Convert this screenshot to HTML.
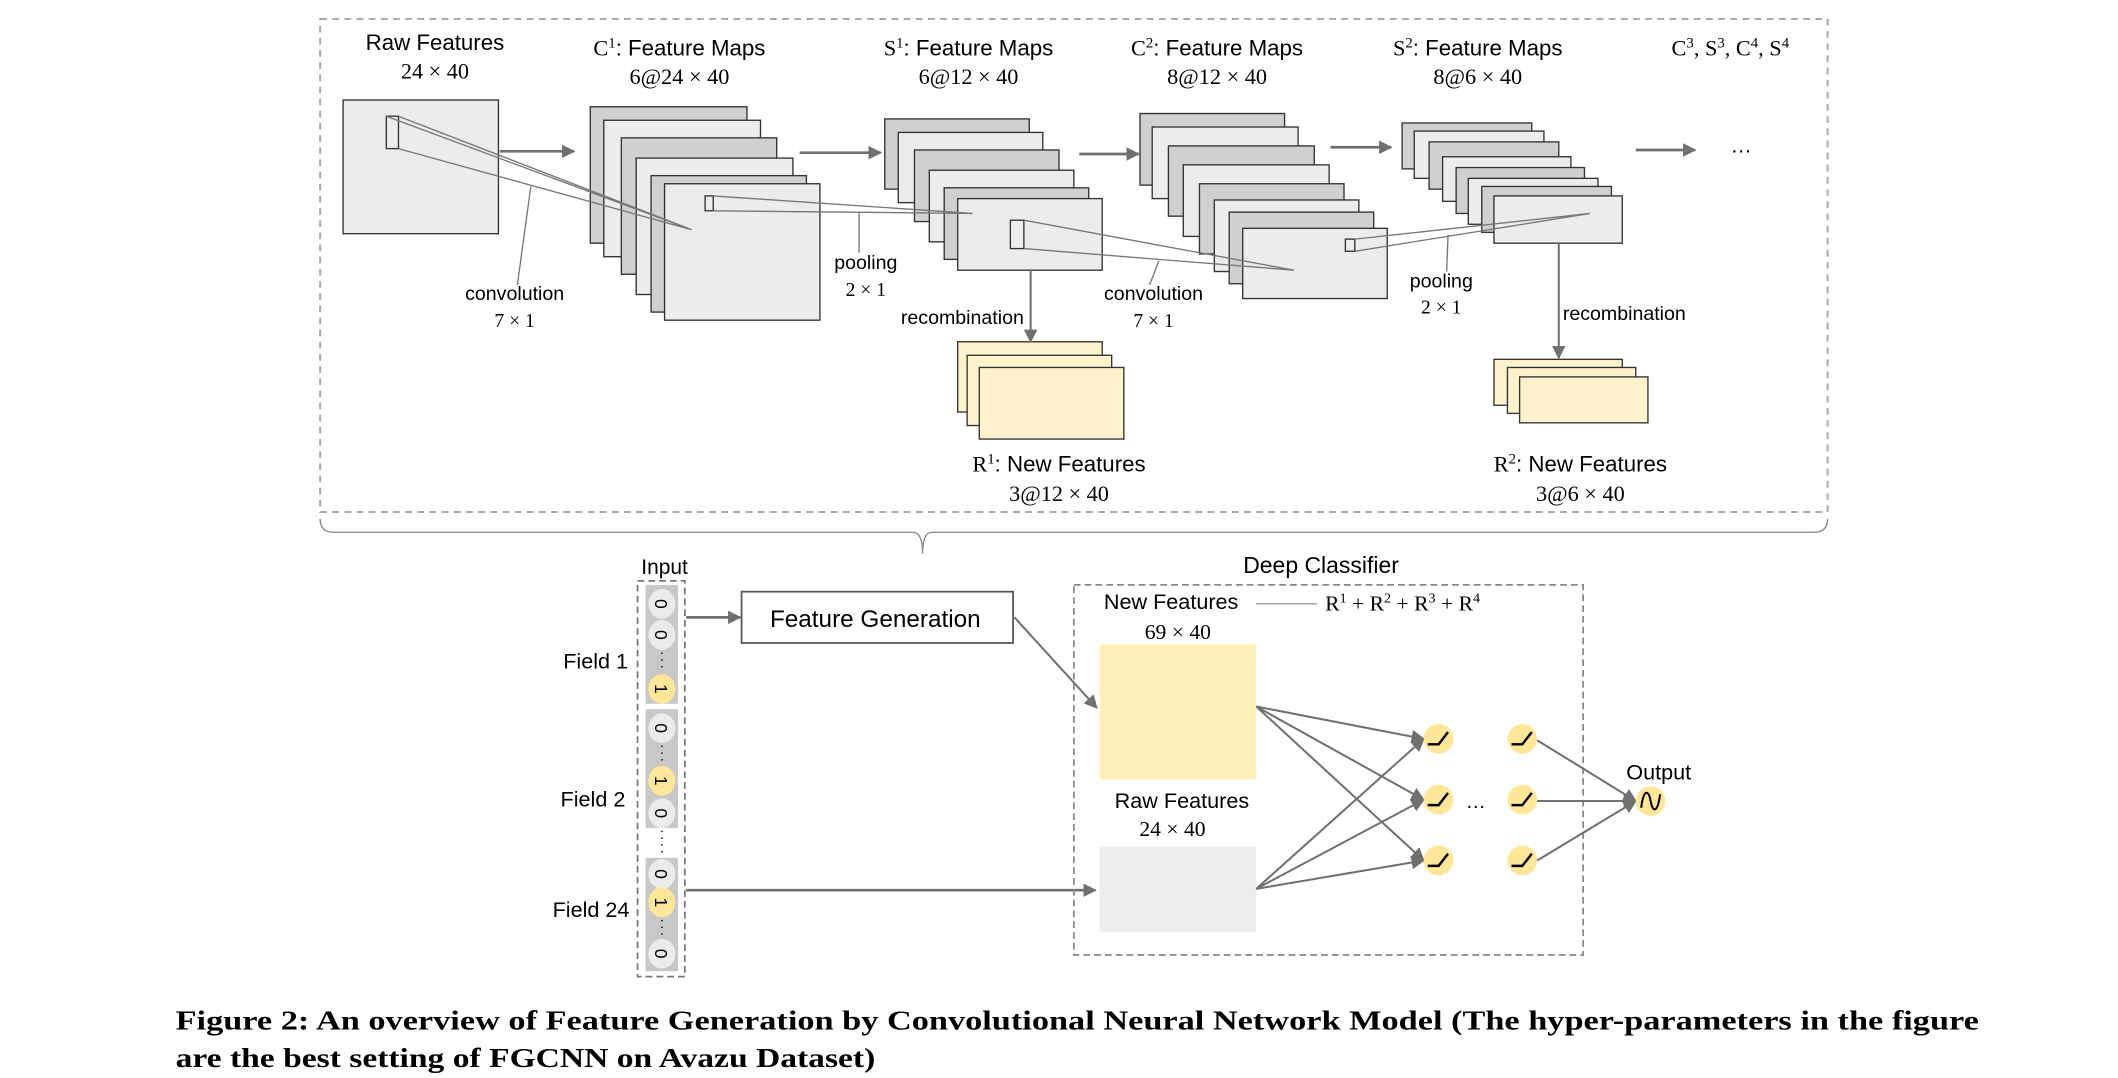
<!DOCTYPE html>
<html><head><meta charset="utf-8"><style>
html,body{margin:0;padding:0;background:#fff;}
svg{display:block;}
.s{font-family:"Liberation Sans",sans-serif;fill:#000;}
.m{font-family:"Liberation Serif",serif;fill:#000;}
</style></head><body>
<svg width="2118" height="1078" viewBox="0 0 1568 798" xmlns="http://www.w3.org/2000/svg">
<defs>
<marker id="a" markerWidth="10" markerHeight="10" refX="9" refY="5" orient="auto" markerUnits="userSpaceOnUse"><path d="M0,0 L10,5 L0,10 z" fill="#707070"/></marker>
</defs>
<rect x="237" y="14" width="1116" height="365" fill="none" stroke="#aaa" stroke-width="1.5" stroke-dasharray="5,4"/>
<path d="M237,384 Q237,394 247,394 L676,394 Q683,394 683,410 Q683,394 690,394 L1343,394 Q1353,394 1353,384" fill="none" stroke="#888" stroke-width="1"/>

<g font-size="16.5">
<text class="s" x="322" y="37" text-anchor="middle">Raw Features</text>
<text class="m" x="322" y="58" text-anchor="middle">24 × 40</text>
<text x="503" y="41" text-anchor="middle"><tspan class="m">C</tspan><tspan class="m" dy="-6" font-size="11">1</tspan><tspan class="s" dy="6">: Feature Maps</tspan></text>
<text class="m" x="503" y="62" text-anchor="middle">6@24 × 40</text>
<text x="717" y="41" text-anchor="middle"><tspan class="m">S</tspan><tspan class="m" dy="-6" font-size="11">1</tspan><tspan class="s" dy="6">: Feature Maps</tspan></text>
<text class="m" x="717" y="62" text-anchor="middle">6@12 × 40</text>
<text x="901" y="41" text-anchor="middle"><tspan class="m">C</tspan><tspan class="m" dy="-6" font-size="11">2</tspan><tspan class="s" dy="6">: Feature Maps</tspan></text>
<text class="m" x="901" y="62" text-anchor="middle">8@12 × 40</text>
<text x="1094" y="41" text-anchor="middle"><tspan class="m">S</tspan><tspan class="m" dy="-6" font-size="11">2</tspan><tspan class="s" dy="6">: Feature Maps</tspan></text>
<text class="m" x="1094" y="62" text-anchor="middle">8@6 × 40</text>
<text class="m" x="1281" y="41" text-anchor="middle">C<tspan dy="-6" font-size="11">3</tspan><tspan dy="6">, S</tspan><tspan dy="-6" font-size="11">3</tspan><tspan dy="6">, C</tspan><tspan dy="-6" font-size="11">4</tspan><tspan dy="6">, S</tspan><tspan dy="-6" font-size="11">4</tspan></text>
</g>

<g stroke="#333" stroke-width="1">
<rect x="254" y="74" width="115" height="99" fill="#ececec"/>
<rect x="286" y="86" width="9" height="24" fill="#ececec"/>
<rect x="437" y="79" width="116" height="101" fill="#d0d0d0"/>
<rect x="447" y="89" width="116" height="101" fill="#ececec"/>
<rect x="460" y="102" width="115" height="101" fill="#d0d0d0"/>
<rect x="471" y="117" width="116" height="101" fill="#ececec"/>
<rect x="482" y="130" width="115" height="101" fill="#d0d0d0"/>
<rect x="492" y="136" width="115" height="101" fill="#ececec"/>
<rect x="522" y="145" width="6" height="11" fill="#ececec"/>
<rect x="655" y="88" width="107" height="52" fill="#d0d0d0"/>
<rect x="665" y="98" width="107" height="52" fill="#ececec"/>
<rect x="677" y="111" width="107" height="53" fill="#d0d0d0"/>
<rect x="688" y="126" width="107" height="53" fill="#ececec"/>
<rect x="699" y="139" width="107" height="53" fill="#d0d0d0"/>
<rect x="709" y="147" width="107" height="53" fill="#ececec"/>
<rect x="748" y="163" width="10" height="21" fill="#ececec"/>
<rect x="844" y="84" width="107" height="53" fill="#d0d0d0"/>
<rect x="853" y="94" width="108" height="53" fill="#ececec"/>
<rect x="865" y="108" width="108" height="52" fill="#d0d0d0"/>
<rect x="876" y="122" width="108" height="53" fill="#ececec"/>
<rect x="888" y="136" width="107" height="52" fill="#d0d0d0"/>
<rect x="899" y="148" width="107" height="53" fill="#ececec"/>
<rect x="910" y="157" width="107" height="53" fill="#d0d0d0"/>
<rect x="920" y="169" width="107" height="52" fill="#ececec"/>
<rect x="996" y="177" width="7" height="9" fill="#ececec"/>
<rect x="1038" y="91" width="96" height="34" fill="#d0d0d0"/>
<rect x="1047" y="97" width="96" height="35" fill="#ececec"/>
<rect x="1058" y="105" width="96" height="35" fill="#d0d0d0"/>
<rect x="1068" y="116" width="95" height="33" fill="#ececec"/>
<rect x="1078" y="124" width="95" height="34" fill="#d0d0d0"/>
<rect x="1087" y="132" width="96" height="34" fill="#ececec"/>
<rect x="1097" y="138" width="96" height="34" fill="#d0d0d0"/>
<rect x="1106" y="145" width="95" height="35" fill="#ececec"/>
<rect x="709" y="253" width="107" height="52" fill="#fff2cc"/>
<rect x="716" y="263" width="107" height="52" fill="#fff2cc"/>
<rect x="725" y="272" width="107" height="53" fill="#fff2cc"/>
<rect x="1106" y="266" width="95" height="34" fill="#fff2cc"/>
<rect x="1116" y="272" width="95" height="34" fill="#fff2cc"/>
<rect x="1125" y="279" width="95" height="34" fill="#fff2cc"/>
</g>

<g stroke="#777" stroke-width="1" fill="none">
<path d="M286,86 L512,170 M295,86 L512,170 M295,110 L512,170"/>
<path d="M528,145 L720,158 M528,156 L720,158"/>
<path d="M758,163 L958,200 M758,184 L958,200"/>
<path d="M1003,177 L1177,158 M1003,186 L1177,158"/>
<path d="M383,211 L393,138 M636,187 L636,157 M851,211 L858,193 M1071,201 L1072,174"/>
</g>
<g stroke="#707070" stroke-width="2" fill="none" marker-end="url(#a)">
<path d="M370,112 L425,112"/>
<path d="M592,113 L652,113"/>
<path d="M799,114 L843,114"/>
<path d="M985,109 L1030,109"/>
<path d="M1211,111 L1255,111"/>
</g>
<g stroke="#707070" stroke-width="1.5" fill="none" marker-end="url(#a)">
<path d="M763,200 L763,253"/>
<path d="M1154,180 L1154,265"/>
</g>
<text class="s" x="1281" y="113" font-size="16">…</text>
<g font-size="14.5">
<text class="s" x="381" y="222" text-anchor="middle">convolution</text>
<text class="m" x="381" y="242" text-anchor="middle">7 × 1</text>
<text class="s" x="641" y="199" text-anchor="middle">pooling</text>
<text class="m" x="641" y="219" text-anchor="middle">2 × 1</text>
<text class="s" x="758" y="240" text-anchor="end">recombination</text>
<text class="s" x="854" y="222" text-anchor="middle">convolution</text>
<text class="m" x="854" y="242" text-anchor="middle">7 × 1</text>
<text class="s" x="1067" y="213" text-anchor="middle">pooling</text>
<text class="m" x="1067" y="232" text-anchor="middle">2 × 1</text>
<text class="s" x="1157" y="237">recombination</text>
</g>
<g font-size="16.5">
<text x="784" y="349" text-anchor="middle"><tspan class="m">R</tspan><tspan class="m" dy="-6" font-size="11">1</tspan><tspan class="s" dy="6">: New Features</tspan></text>
<text class="m" x="784" y="371" text-anchor="middle">3@12 × 40</text>
<text x="1170" y="349" text-anchor="middle"><tspan class="m">R</tspan><tspan class="m" dy="-6" font-size="11">2</tspan><tspan class="s" dy="6">: New Features</tspan></text>
<text class="m" x="1170" y="371" text-anchor="middle">3@6 × 40</text>
</g>

<text class="s" x="492" y="425" font-size="15.5" text-anchor="middle">Input</text>
<rect x="472" y="430" width="35" height="293" fill="none" stroke="#777" stroke-width="1.3" stroke-dasharray="5,3"/>
<rect x="478" y="433" width="24" height="88" fill="#c8c8c8"/>
<rect x="478" y="525" width="24" height="88" fill="#c8c8c8"/>
<rect x="478" y="635" width="24" height="84" fill="#c8c8c8"/>
<g font-family="Liberation Sans,sans-serif" font-size="13" text-anchor="middle">
<g fill="#ebebeb">
<ellipse cx="490" cy="447" rx="10" ry="11"/><ellipse cx="490" cy="470" rx="10" ry="11"/>
<ellipse cx="490" cy="539" rx="10" ry="11"/><ellipse cx="490" cy="602" rx="10" ry="11"/>
<ellipse cx="490" cy="647" rx="10" ry="11"/><ellipse cx="490" cy="706" rx="10" ry="11"/>
</g>
<g fill="#ffe699">
<ellipse cx="490" cy="510" rx="10" ry="11"/><ellipse cx="490" cy="578" rx="10" ry="11"/><ellipse cx="490" cy="668" rx="10" ry="11"/>
</g>
<text transform="translate(485,447) rotate(90)">0</text>
<text transform="translate(485,470) rotate(90)">0</text>
<text transform="translate(485,510) rotate(90)">1</text>
<text transform="translate(485,539) rotate(90)">0</text>
<text transform="translate(485,578) rotate(90)">1</text>
<text transform="translate(485,602) rotate(90)">0</text>
<text transform="translate(485,647) rotate(90)">0</text>
<text transform="translate(485,668) rotate(90)">1</text>
<text transform="translate(485,706) rotate(90)">0</text>
</g>
<g stroke="#222" stroke-width="1.3" stroke-dasharray="1,4">
<path d="M490,483 L490,497 M490,552 L490,566 M490,615 L490,632 M490,681 L490,694"/>
</g>
<g font-size="16">
<text class="s" x="465" y="495" text-anchor="end">Field 1</text>
<text class="s" x="463" y="597" text-anchor="end">Field 2</text>
<text class="s" x="466" y="679" text-anchor="end">Field 24</text>
</g>

<rect x="549" y="438" width="201" height="38" fill="#fff" stroke="#555" stroke-width="1.3"/>
<text class="s" x="648" y="464" font-size="18" text-anchor="middle">Feature Generation</text>
<g stroke="#707070" stroke-width="2" fill="none" marker-end="url(#a)">
<path d="M508,457 L548,457"/>
<path d="M751,457 L812,524" stroke-width="1.5"/>
<path d="M508,659 L811,659"/>
</g>

<text class="s" x="978" y="424" font-size="17" text-anchor="middle">Deep Classifier</text>
<rect x="795" y="433" width="377" height="274" fill="none" stroke="#888" stroke-width="1.3" stroke-dasharray="5,3"/>
<text class="s" x="867" y="451" font-size="16" text-anchor="middle">New Features</text>
<text class="m" x="872" y="473" font-size="16" text-anchor="middle">69 × 40</text>
<path d="M930,447 L975,447" stroke="#999" stroke-width="1"/>
<text class="m" x="981" y="452" font-size="16">R<tspan dy="-6" font-size="10.5">1</tspan><tspan dy="6"> + R</tspan><tspan dy="-6" font-size="10.5">2</tspan><tspan dy="6"> + R</tspan><tspan dy="-6" font-size="10.5">3</tspan><tspan dy="6"> + R</tspan><tspan dy="-6" font-size="10.5">4</tspan></text>
<rect x="814" y="477" width="116" height="100" fill="#fff1b9"/>
<text class="s" x="875" y="598" font-size="16" text-anchor="middle">Raw Features</text>
<text class="m" x="868" y="619" font-size="16" text-anchor="middle">24 × 40</text>
<rect x="814" y="627" width="116" height="63" fill="#ededed"/>

<g stroke="#707070" stroke-width="1.5" fill="none" marker-end="url(#a)">
<path d="M930,523 L1054,547"/><path d="M930,523 L1054,592"/><path d="M930,523 L1054,637"/>
<path d="M930,658 L1054,547"/><path d="M930,658 L1054,592"/><path d="M930,658 L1054,637"/>
<path d="M1138,548 L1211,593"/><path d="M1138,593 L1211,593"/><path d="M1138,637 L1211,593"/>
</g>
<g fill="#ffe699">
<circle cx="1065" cy="547" r="11"/><circle cx="1065" cy="592" r="11"/><circle cx="1065" cy="637" r="11"/>
<circle cx="1127" cy="547" r="11"/><circle cx="1127" cy="592" r="11"/><circle cx="1127" cy="637" r="11"/>
<circle cx="1222" cy="593" r="11"/>
</g>
<g stroke="#000" stroke-width="1.8" fill="none">
<path d="M1057,551 L1065,551 L1072,542"/><path d="M1057,596 L1065,596 L1072,587"/><path d="M1057,641 L1065,641 L1072,632"/>
<path d="M1119,551 L1127,551 L1134,542"/><path d="M1119,596 L1127,596 L1134,587"/><path d="M1119,641 L1127,641 L1134,632"/>
<path d="M1215,598 C1217,582 1221,586 1222,593 C1223,600 1227,604 1229,588" stroke-width="1.5"/>
</g>
<text class="s" x="1085" y="598" font-size="15">…</text>
<text class="s" x="1228" y="577" font-size="16" text-anchor="middle">Output</text>

<g font-family="Liberation Serif,serif" font-weight="bold" font-size="20" fill="#000">
<text x="130" y="762" textLength="1335" lengthAdjust="spacingAndGlyphs">Figure 2: An overview of Feature Generation by Convolutional Neural Network Model (The hyper-parameters in the figure</text>
<text x="130" y="790" textLength="518" lengthAdjust="spacingAndGlyphs">are the best setting of FGCNN on Avazu Dataset)</text>
</g>
</svg>
</body></html>
